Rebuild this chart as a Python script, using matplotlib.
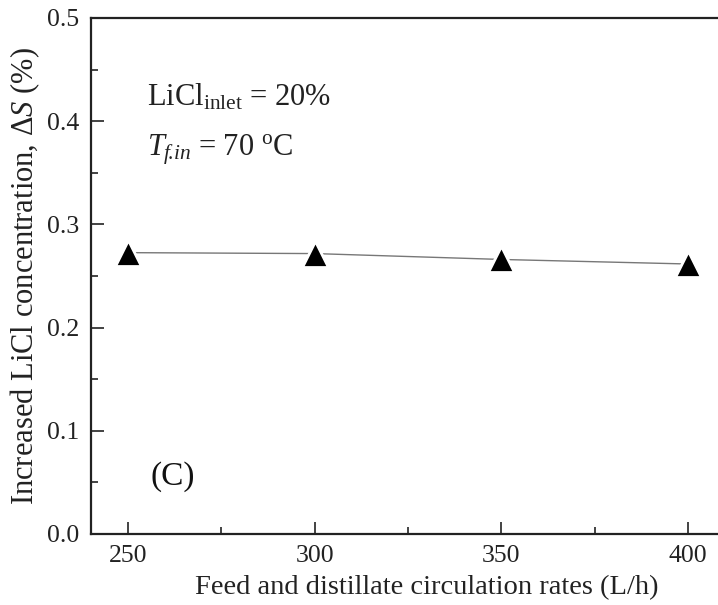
import matplotlib
matplotlib.use("Agg")
import matplotlib.pyplot as plt
from matplotlib.ticker import MultipleLocator, FormatStrFormatter

plt.rcParams["font.family"] = ["Liberation Serif", "DejaVu Serif"]
plt.rcParams["mathtext.fontset"] = "custom"
plt.rcParams["mathtext.rm"] = "Liberation Serif"
plt.rcParams["mathtext.it"] = "Liberation Serif:italic"

# circulation rate (L/h) vs increase in LiCl concentration (%)
flow_rates = [250, 300, 350, 400]
delta_s = [0.2726, 0.2717, 0.2660, 0.2616]

fig = plt.figure(figsize=(7.18, 6.05), dpi=100)
ax = fig.add_axes([0.1263, 0.1174, 0.9360, 0.8529])

ax.plot(flow_rates, delta_s, color="#777777", lw=1.0, marker="^", ms=19,
        mfc="black", mec="white", mew=2.0, zorder=3)

ax.set_xlim(240, 420)
ax.set_ylim(0.0, 0.5)
ax.xaxis.set_major_locator(MultipleLocator(50))
ax.xaxis.set_minor_locator(MultipleLocator(25))
ax.yaxis.set_major_locator(MultipleLocator(0.1))
ax.yaxis.set_minor_locator(MultipleLocator(0.05))
ax.yaxis.set_major_formatter(FormatStrFormatter("%.1f"))

ax.tick_params(which="both", direction="in", top=False, right=False,
               labelsize=18.5, width=1.2, color="#222222", labelcolor="#222222")
ax.tick_params(which="major", length=9, pad=8)
ax.tick_params(which="minor", length=5)
for side in ["left", "bottom", "top", "right"]:
    ax.spines[side].set_linewidth(1.6)
    ax.spines[side].set_color("#222222")

ax.set_xlabel("Feed and distillate circulation rates (L/h)", fontsize=20.5,
              color="#222222", labelpad=6)
ax.set_ylabel("Increased LiCl concentration, $\\mathit{Δ}\\mathit{S}$ (%)",
              fontsize=22, color="#222222", labelpad=4)

ax.text(255.1, 0.4147, r"LiCl$_{\mathrm{inlet}}$ = 20%", fontsize=22,
        color="#222222")
ax.text(255.1, 0.367, r"$T_{f\!.\!in}$ = 70 $^{\mathrm{o}}$C", fontsize=22,
        color="#222222")
ax.text(256.0, 0.0475, "(C)", fontsize=24, color="#111111")

fig.savefig("out.png", dpi=100)
